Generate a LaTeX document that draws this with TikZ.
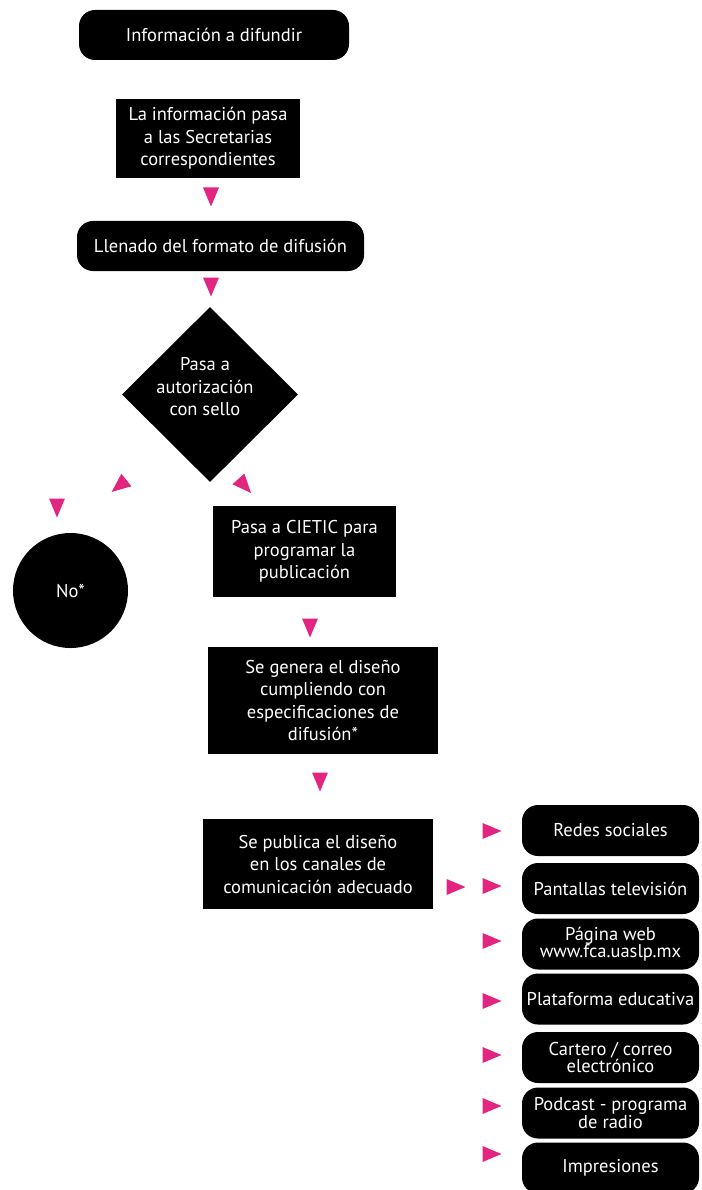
\documentclass[tikz,border=0pt]{standalone}
\usepackage{fontspec}
\setmainfont{PT Sans}
\usetikzlibrary{shapes.geometric}
\definecolor{marca}{RGB}{226,37,128}

\begin{document}
\begin{tikzpicture}[x=1pt,y=-1pt,
    caja/.style={fill=black,text=white,align=center,inner sep=0pt,font=\fontsize{18.5}{22.5}\selectfont},
    redonda/.style={caja,rounded corners=16pt},
    canal/.style={redonda,minimum width=177pt,minimum height=51pt,font=\fontsize{18.5}{17.5}\selectfont},
  ]
  \useasboundingbox (0,0) rectangle (701,1190);
  % flujo principal
  \node[redonda,minimum width=270pt,minimum height=50pt] (info) at (214,35) {Información a difundir};
  \node[caja,minimum width=184pt,minimum height=79pt] (secre) at (208,138.5) {La información pasa\\a las Secretarias\\correspondientes};
  \node[redonda,minimum width=287pt,minimum height=50pt] (llenado) at (220.5,246) {Llenado del formato de difusión};
  \node[caja,diamond,minimum width=176pt,minimum height=175pt] (autor) at (210,394.5) {};
  \node[caja,fill=none] (autortxt) at (205,387) {Pasa a\\autorización\\con sello};
  \node[caja,circle,minimum size=115pt] (no) at (70.5,590.5) {No*};
  \node[caja,minimum width=183pt,minimum height=91pt] (cietic) at (304.5,551.5) {Pasa a CIETIC para\\programar la\\publicación};
  \node[caja,minimum width=230pt,minimum height=107pt] (genera) at (323,700.5) {Se genera el diseño\\cumpliendo con\\especificaciones de\\difusión*};
  \node[caja,minimum width=230pt,minimum height=90pt] (publica) at (318,864) {Se publica el diseño\\en los canales de\\comunicación adecuado};
  % canales
  \node[canal] (redes) at (610.5,830.5) {Redes sociales};
  \node[canal] (pantallas) at (610.5,888.5) {Pantallas televisión};
  \node[canal] (web) at (610.5,944) {Página web\\www.fca.uaslp.mx};
  \node[canal] (plataforma) at (610.5,999) {Plataforma educativa};
  \node[canal] (correo) at (610.5,1057.5) {Cartero / correo\\electrónico};
  \node[canal] (podcast) at (610.5,1113) {Podcast - programa\\de radio};
  \node[canal] (impresiones) at (610.5,1168) {Impresiones};
  % flechas
  \foreach \x/\y/\a in {211/197/-90, 211/287/-90, 119/486/219, 244.75/486/-48, 57/508/-90,
      310/628/-90, 320/782/-90, 456/887/0, 492/831/0, 492/886/0, 492/941/0,
      492/1001/0, 492/1055/0, 492/1106/0, 492/1154/0}
    \fill[marca,shift={(\x,\y)},rotate=\a] (9.5,0) -- (-9.5,8) -- (-9.5,-8) -- cycle;
\end{tikzpicture}
\end{document}
